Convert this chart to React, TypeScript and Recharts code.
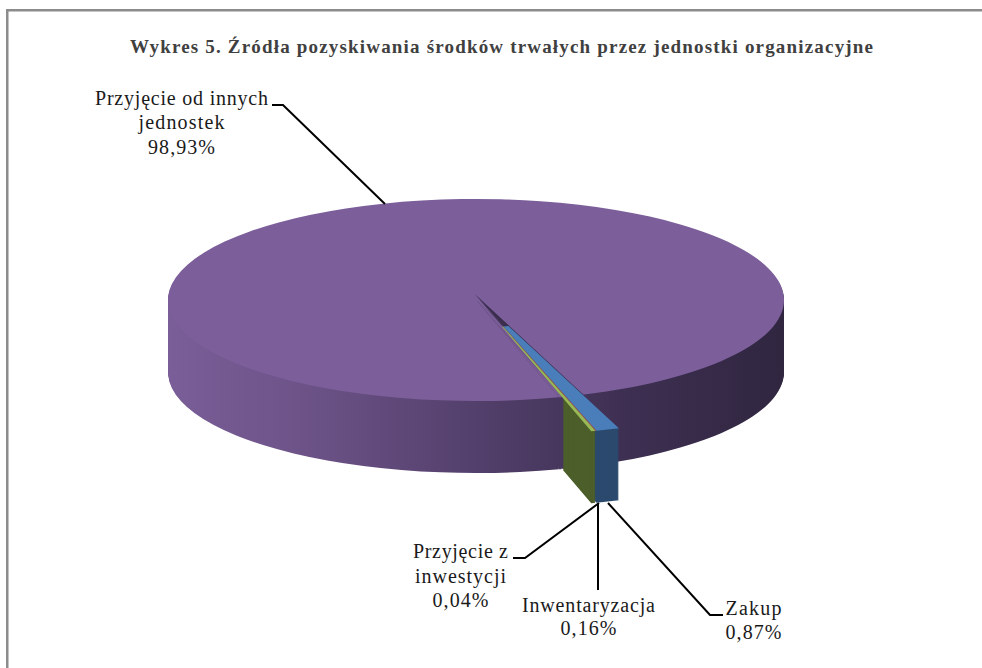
import React from "react"
import { PieChart, Pie, Cell } from "recharts"

const categories = ["Zakup", "Przyjęcie z inwestycji", "Inwentaryzacja", "Przyjęcie od innych jednostek"]
const shares = [0.87, 0.04, 0.16, 98.93]
const sliceData = categories.map((name, i) => ({ name, value: shares[i] }))

const topColors = ["#4A7EBB", "#BE4B48", "#98B954", "none"]
const title = "Wykres 5. Źródła pozyskiwania środków trwałych przez jednostki organizacyjne"

// the disc is a normal pie squashed vertically, so everything is in unsquashed units
const SQUASH = 0.328
const DEPTH = 72
const layers = Array.from({ length: DEPTH }, (_, i) => DEPTH - i)
const START = -70.5
const END = START - 360
const RIM_R = 308
const SMALL_R = 326
const OUTER_R = 431
const DISC_X = 476
const DISC_Y = 300
const TIP_X = 475
const TIP_Y = 295

const pct = (v: number) => `${v.toFixed(2).replace(".", ",")}%`

const labels = [
  { lines: ["Przyjęcie od innych", "jednostek", pct(shares[3])], x: 181.5, y: [105, 129, 154], w: [173, 86, 67] },
  { lines: ["Przyjęcie z", "inwestycji", pct(shares[1])], x: 460.5, y: [558, 583, 607], w: [95, 91, 56] },
  { lines: ["Inwentaryzacja", pct(shares[2])], x: 588.5, y: [612, 635], w: [133, 56] },
  { lines: ["Zakup", pct(shares[0])], x: 753.5, y: [615, 639], w: [56, 56] },
]
const leaders = [
  "272,105 283,105 385,204",
  "513,558 525,558 599,503",
  "598,503 598,590",
  "723,615 710,615 608,503",
]

const App = () => {
  const common = {
    data: sliceData,
    dataKey: "value",
    nameKey: "name",
    startAngle: START,
    endAngle: END,
    stroke: "none",
    isAnimationActive: false,
  }

  return (
    <div style={{ position: "absolute", left: 0, top: 0, width: 982, height: 668, overflow: "hidden", background: "#fff" }}>
      <div style={{ position: "absolute", left: 0, top: 0, transform: `scaleY(${SQUASH})`, transformOrigin: "0 0" }}>
        <PieChart width={982} height={668 / SQUASH} margin={{ top: 0, right: 0, bottom: 0, left: 0 }}>
          <defs>
            <linearGradient id="wall" gradientUnits="userSpaceOnUse" x1={168} y1={0} x2={784} y2={0}>
              <stop offset="0" stopColor="#7A5E98" />
              <stop offset="0.25" stopColor="#6A5185" />
              <stop offset="0.55" stopColor="#4E3C66" />
              <stop offset="0.75" stopColor="#3D2F51" />
              <stop offset="1" stopColor="#302640" />
            </linearGradient>
          </defs>

          {/* side wall of the big slice */}
          {layers.map((d) => (
            <Pie
              key={`wall-${d}`}
              {...common}
              cx={DISC_X}
              cy={(DISC_Y + d) / SQUASH}
              outerRadius={RIM_R}
              fill="url(#wall)"
            />
          ))}
          {/* top of the disc */}
          <Pie {...common} cx={DISC_X} cy={DISC_Y / SQUASH} outerRadius={RIM_R} fill="#7C5F9A" />

          {/* walls of the small slices, only outside the rim */}
          {layers.map((d) => (
            <Pie
              key={`blue-${d}`}
              {...common}
              cx={TIP_X}
              cy={(TIP_Y + d) / SQUASH}
              innerRadius={SMALL_R}
              outerRadius={OUTER_R}
            >
              {categories.map((c, i) => (
                <Cell key={c} fill={i === 0 ? "#2B4A6E" : "none"} />
              ))}
            </Pie>
          ))}
          {layers.map((d) => (
            <Pie
              key={`green-${d}`}
              {...common}
              cx={TIP_X}
              cy={(TIP_Y + d) / SQUASH}
              innerRadius={SMALL_R}
              outerRadius={OUTER_R}
            >
              {categories.map((c, i) => (
                <Cell key={c} fill={i === 2 ? "#4C5E2A" : "none"} />
              ))}
            </Pie>
          ))}

          {/* dark shade near the tip and along the upper edge, then the coloured tops */}
          <Pie {...common} cx={TIP_X} cy={(TIP_Y - 0.8) / SQUASH} outerRadius={SMALL_R}>
            {categories.map((c, i) => (
              <Cell key={c} fill={i === 3 ? "none" : "#3A2D4E"} />
            ))}
          </Pie>
          <Pie {...common} cx={TIP_X} cy={TIP_Y / SQUASH} innerRadius={100} outerRadius={OUTER_R}>
            {categories.map((c, i) => (
              <Cell key={c} fill={topColors[i]} />
            ))}
          </Pie>
        </PieChart>
      </div>

      <svg width={982} height={668} style={{ position: "absolute", left: 0, top: 0 }}>
        <rect x={6} y={9} width={976} height={2.5} fill="#8C8C8C" />
        <rect x={6} y={9} width={2.5} height={659} fill="#8C8C8C" />
        <text
          x={501.5}
          y={53}
          textAnchor="middle"
          textLength={743}
          lengthAdjust="spacing"
          fontFamily="'Liberation Serif'"
          fontWeight="bold"
          fontSize={19}
          fill="#404040"
        >
          {title}
        </text>
        {leaders.map((p) => (
          <polyline key={p} points={p} fill="none" stroke="#000" strokeWidth={2} />
        ))}
        {labels.map((l) =>
          l.lines.map((t, i) => (
            <text
              key={t}
              x={l.x}
              y={l.y[i]}
              textAnchor="middle"
              textLength={l.w[i]}
              lengthAdjust="spacing"
              fontFamily="'Liberation Serif'"
              fontSize={20}
              fill="#1a1a1a"
            >
              {t}
            </text>
          ))
        )}
      </svg>
    </div>
  )
}

export default App
